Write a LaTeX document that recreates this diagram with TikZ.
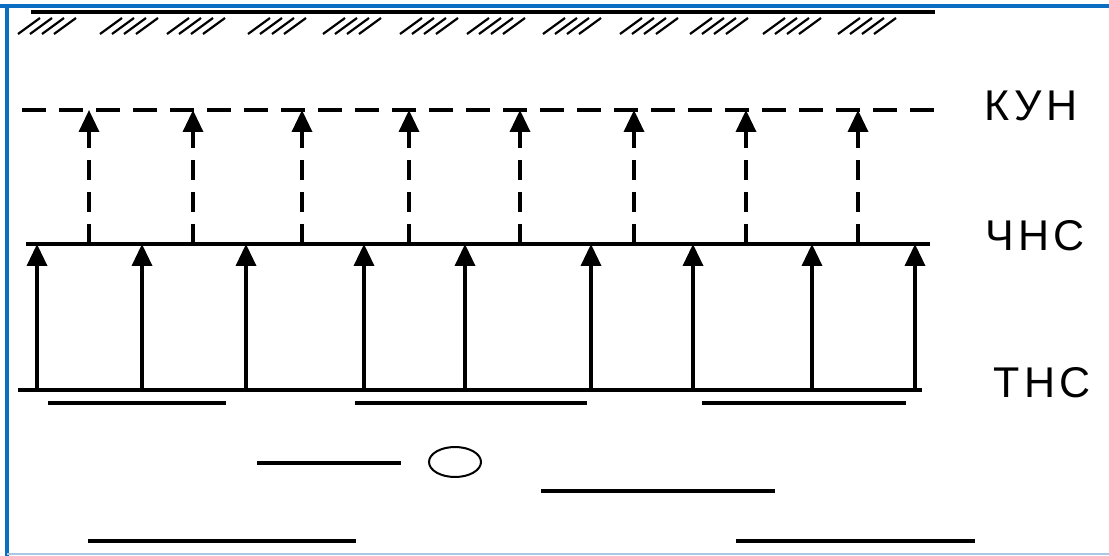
\documentclass[tikz,border=0pt]{standalone}
\usepackage{fontspec}
\setmainfont{Liberation Sans}
\newfontfamily\lblfont[LetterSpace=10]{Liberation Sans}
\usetikzlibrary{arrows.meta}
\definecolor{frameblue}{HTML}{0A6FC2}
\definecolor{framelight}{HTML}{A8C8E4}
\begin{document}
\begin{tikzpicture}[x=1pt,y=-1pt,
  lvl/.style={line width=3.5pt},
  upar/.style={-{Triangle[width=20pt,length=22pt]}, line width=3.5pt},
  dupar/.style={upar, dash pattern=on 20pt off 12pt},
  dashlvl/.style={line width=3.5pt, dash pattern=on 24pt off 13pt},
  lbl/.style={font=\lblfont\fontsize{43}{43}\selectfont, inner sep=0pt},
  hatchline/.style={line width=2.2pt},
  seg/.style={line width=3.5pt}]
\useasboundingbox (0,0) rectangle (1109,556);
\fill[white] (0,0) rectangle (1109,556);
% frame
\draw[frameblue, line width=4pt] (0,6) -- (1109,6);
\draw[frameblue, line width=4pt] (7,4) -- (7,556);
\draw[framelight, line width=2pt] (7,554) -- (1109,554);
% ground line with hatching
\coordinate (g1) at (31,12);
\coordinate (g2) at (935,12);
\draw[lvl] (g1) -- (g2);
\foreach \h in {18,100,167,248,323,400,467,543,620,690,763,838}{
  \foreach \i in {0,1,2,3}{
    \draw[hatchline] (\h+\i*12,34) -- ++(22,-16);
  }
}
% levels
\coordinate (k1) at (22,110);
\coordinate (k2) at (940,110);
\draw[dashlvl] (k1) -- (k2);
\coordinate (c1) at (26,244);
\coordinate (c2) at (930,244);
\draw[lvl] (c1) -- (c2);
\coordinate (t1) at (18,390);
\coordinate (t2) at (922,390);
\draw[lvl] (t1) -- (t2);
% dashed arrows CHNS -> KUN
\foreach \x [count=\n] in {89,193,302,409,520,634,746,858}{
  \coordinate (da\n) at (\x,244);
  \coordinate (db\n) at (\x,110);
  \draw[dupar] (da\n) -- (db\n);
}
% solid arrows TNS -> CHNS
\foreach \x [count=\n] in {37,142,246,364,465,591,693,812,915}{
  \coordinate (sa\n) at (\x,390);
  \coordinate (sb\n) at (\x,244);
  \draw[upar] (sa\n) -- (sb\n);
}
% lower segments
\coordinate (p1) at (48,403);  \coordinate (p2) at (226,403);
\coordinate (p3) at (355,403); \coordinate (p4) at (587,403);
\coordinate (p5) at (702,403); \coordinate (p6) at (906,403);
\coordinate (p7) at (257,463); \coordinate (p8) at (401,463);
\coordinate (p9) at (541,491); \coordinate (p10) at (775,491);
\coordinate (p11) at (88,541); \coordinate (p12) at (356,541);
\coordinate (p13) at (736,541); \coordinate (p14) at (975,541);
\draw[seg] (p1) -- (p2);
\draw[seg] (p3) -- (p4);
\draw[seg] (p5) -- (p6);
\draw[seg] (p7) -- (p8);
\draw[seg] (p9) -- (p10);
\draw[seg] (p11) -- (p12);
\draw[seg] (p13) -- (p14);
\coordinate (ring) at (455,462);
\draw[line width=2pt] (ring) ellipse [x radius=26pt, y radius=15pt];
% labels
\node[lbl] (kun) at (1031,106) {КУН};
\node[lbl] (chns) at (1035,236) {ЧНС};
\node[lbl] (tns) at (1042,383) {ТНС};
\end{tikzpicture}
\end{document}
